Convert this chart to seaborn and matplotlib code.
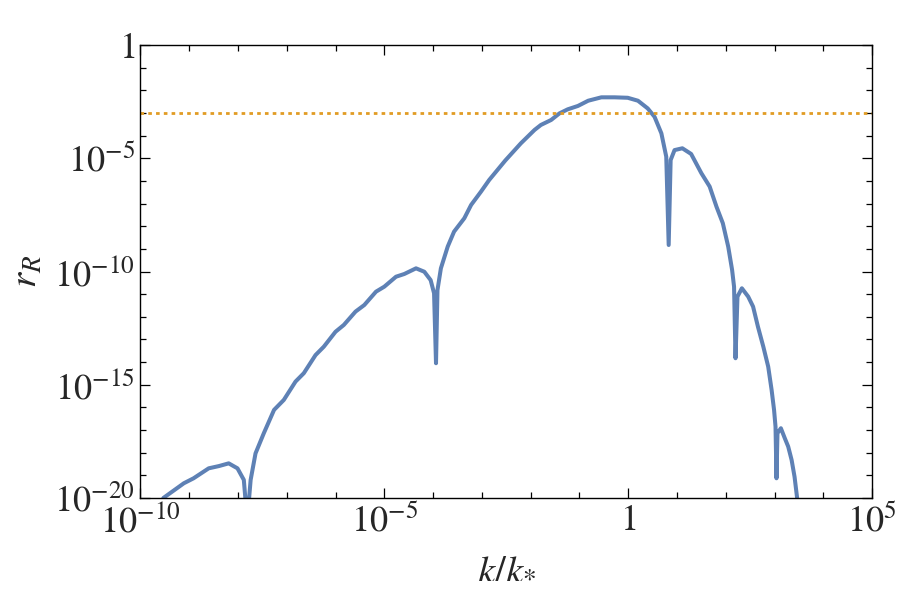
"""Spectrum ratio r_R versus k/k_* on log-log axes."""

import matplotlib
matplotlib.use("Agg")
import matplotlib.pyplot as plt
from matplotlib.ticker import FixedLocator, FuncFormatter, NullFormatter
import numpy as np
import pandas as pd
import seaborn as sns

# curve, as log10 values
log_k = [
    -9.53, -9.11, -8.91, -8.60, -8.39, -8.19, -8.01, -7.88, -7.81, -7.74,
    -7.64, -7.47, -7.26, -7.06, -6.82, -6.65, -6.41, -6.24, -6.00, -5.83,
    -5.59, -5.41, -5.17, -5.00, -4.76, -4.59, -4.35, -4.18, -4.05, -3.98,
    -3.94, -3.91, -3.84, -3.70, -3.57, -3.36, -3.22, -3.02, -2.85, -2.52,
    -2.20, -1.92, -1.79, -1.58, -1.41, -1.24, -1.03, -0.82, -0.55, -0.28,
    -0.01, 0.20, 0.40, 0.54, 0.68, 0.78, 0.83, 0.87, 0.95, 1.11,
    1.29, 1.50, 1.67, 1.81, 1.94, 2.05, 2.13, 2.17, 2.20, 2.24,
    2.33, 2.46, 2.56, 2.66, 2.77, 2.87, 2.94, 2.99, 3.02, 3.04,
    3.06, 3.13, 3.21, 3.28, 3.35, 3.41, 3.48,
]
log_r = [
    -20.0, -19.35, -19.13, -18.69, -18.59, -18.47, -18.69, -19.2, -21.0, -19.2,
    -18.03, -17.14, -16.11, -15.67, -14.86, -14.49, -13.69, -13.32, -12.66, -12.36,
    -11.77, -11.48, -10.89, -10.67, -10.23, -10.11, -9.86, -10.01, -10.38, -10.96,
    -14.05, -10.82, -9.86, -8.90, -8.24, -7.65, -7.06, -6.48, -5.96, -5.10,
    -4.34, -3.75, -3.53, -3.31, -3.02, -2.84, -2.69, -2.46, -2.31, -2.31,
    -2.33, -2.46, -2.80, -3.17, -3.90, -4.93, -8.83, -5.08, -4.64, -4.56,
    -4.81, -5.66, -6.25, -7.14, -7.87, -8.90, -9.93, -10.67, -13.83, -11.11,
    -10.74, -11.11, -11.55, -12.44, -13.32, -14.20, -15.23, -16.11, -16.85, -19.13,
    -17.14, -16.92, -17.36, -17.73, -18.32, -19.06, -20.3,
]
threshold = 1e-3

x_major = [1e-10, 1e-5, 1, 1e5]
y_major = [1e-20, 1e-15, 1e-10, 1e-5, 1]

BLUE = "#5E81B5"
ORANGE = "#E19C24"

sns.set_style("ticks")
plt.rcParams["font.family"] = ["STIXGeneral", "DejaVu Serif"]
plt.rcParams["mathtext.fontset"] = "stix"

df = pd.DataFrame({"k": 10.0 ** np.array(log_k), "r": 10.0 ** np.array(log_r)})

fig = plt.figure(figsize=(9, 6), dpi=100)
ax = fig.add_axes([0.156, 0.17, 0.813, 0.755])

sns.lineplot(data=df, x="k", y="r", sort=False, estimator=None,
             color=BLUE, linewidth=2.9, ax=ax)
ax.axhline(threshold, color=ORANGE, linewidth=2.0, linestyle=(0, (1.3, 1.5)))

ax.set_xscale("log")
ax.set_yscale("log")
ax.set_xlim(1e-10, 1e5)
ax.set_ylim(1e-20, 1)


def _fmt(v, _pos):
    e = int(round(np.log10(v)))
    if e == 0:
        return "$1$"
    return rf"$10^{{{e}}}$"


ax.xaxis.set_major_locator(FixedLocator(x_major))
ax.xaxis.set_minor_locator(FixedLocator([10.0 ** e for e in range(-10, 6)]))
ax.yaxis.set_major_locator(FixedLocator(y_major))
ax.yaxis.set_minor_locator(FixedLocator([10.0 ** e for e in range(-20, 1)]))
ax.xaxis.set_major_formatter(FuncFormatter(_fmt))
ax.yaxis.set_major_formatter(FuncFormatter(_fmt))
ax.xaxis.set_minor_formatter(NullFormatter())
ax.yaxis.set_minor_formatter(NullFormatter())

ax.tick_params(which="both", direction="in", top=True, right=True,
               color="black", width=0.9)
ax.tick_params(which="major", length=7, labelsize=26)
ax.tick_params(axis="y", which="major", pad=4)
ax.tick_params(axis="x", which="major", pad=5)
ax.tick_params(which="minor", length=4)
for s in ax.spines.values():
    s.set_color("black")
    s.set_linewidth(1.0)

ax.set_xlabel(r"$k/k_{*}$", fontsize=28, labelpad=8)
ax.set_ylabel(r"$r_{R}$", fontsize=28, labelpad=7)

fig.savefig("out.png", dpi=100)
plt.close(fig)
